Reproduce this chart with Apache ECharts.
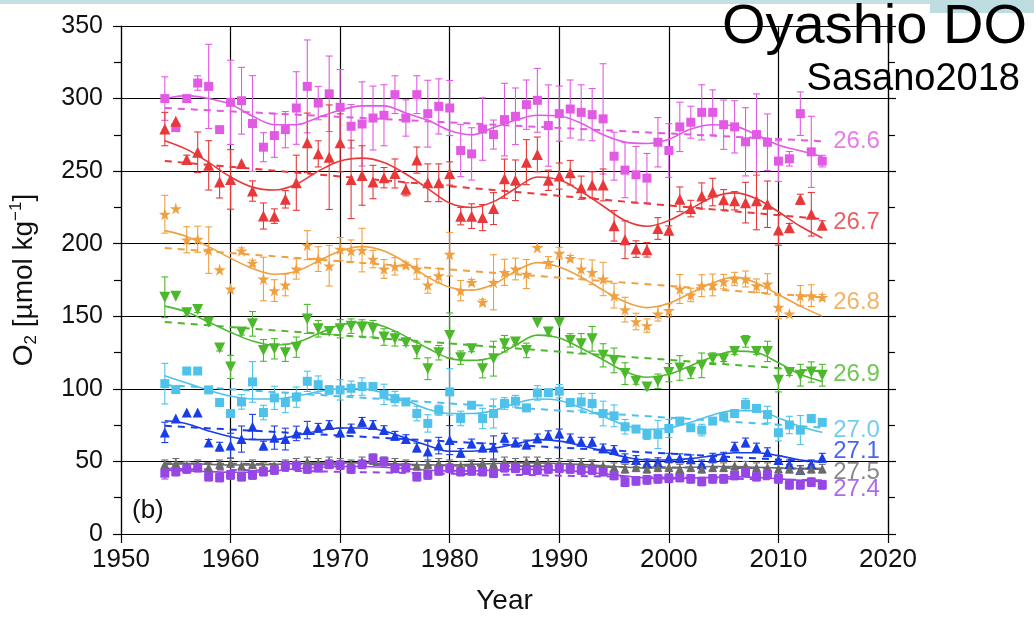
<!DOCTYPE html>
<html><head><meta charset="utf-8">
<script src="https://cdn.jsdelivr.net/npm/echarts@6/dist/echarts.min.js"></script>
<style>html,body{margin:0;padding:0;background:#fff;}#c{width:1034px;height:620px;}</style>
</head><body><div id="c"></div>
<script>
const years = [1954,1955,1956,1957,1958,1959,1960,1961,1962,1963,1964,1965,1966,1967,1968,1969,1970,1971,1972,1973,1974,1975,1976,1977,1978,1979,1980,1981,1982,1983,1984,1985,1986,1987,1988,1989,1990,1991,1992,1993,1994,1995,1996,1997,1998,1999,2000,2001,2002,2003,2004,2005,2006,2007,2008,2009,2010,2011,2012,2013,2014];
const fitYears = [1954,1956,1958,1960,1962,1964,1966,1968,1970,1972,1974,1976,1978,1980,1982,1984,1986,1988,1990,1992,1994,1996,1998,2000,2002,2004,2006,2008,2010,2012,2014];
const trendYears = [1954, 2014];
const xTicks = [1950,1960,1970,1980,1990,2000,2010,2020];
const yTicks = [0,50,100,150,200,250,300,350];

// sigma-theta 26.6
const o266 = [300,280,300,310.7,308.4,278.6,297.4,298.5,282.8,266.5, 274.5,278.6,293.5,308.4,296.9,303.3,294,280.9,282.5,286.6, 288.5,302.7,286.6,302.7,289.6,294.6,293.5,264.2,261.9,279, 275.2,285.5,287.8,295.8,298.8,281.4,289.6,292.8,290.5,288.9, 286,260.3,250.7,247.5,245.2,269.9,264.2,280.5,283.7,290.5, 290.5,282,280.5,270.2,275.2,269.9,256.9,258.5,289.6,263.3, 256.9];
const e266 = [15,0,0,5,29,0,29,23,33,10, 15,12.5,25,32,11.5,26,26,15,29,22, 21,13,12.5,13,23,19,19,18,18,21.5, 10,25,19.5,17,22,28,19,20,19,18, 38,16.5,19,19.5,17,17,18.5,17,11,19, 15.5,17,18,23.5,28,19.5,14,5,15,24.5, 4];
const f266 = [300,302,300,296,288,282,282,287,292,295,295,290,285,278,275,280,285,288.5,288,283,275,270,269,272,279,282,281,275,268,264,260];
const t266 = [293.5, 270.6];
// 26.7
const o267 = [279,284.3,258,263,254,242.5,244.3,255.3,236.3,219.1, 219,230.6,242,269.5,261.9,259.6,269.5,244.3,247,242.5, 245.5,248.4,237.5,257.6,242,242,248.4,219,219,218, 224.2,244.8,243.7,256.2,261.5,243.7,246.6,248.9,238.6,240.5, 240.5,212.3,202.7,196.3,195.8,210.5,209.3,230.6,224.2,232.9, 235.6,230.3,229.6,228.3,229.6,227.2,209.5,211,230.6,220.3, 212.8];
const e267 = [11.5,0,3,14,17,11,20.5,0,7,9, 5,6,19,20.5,9,36,20,27,20.5,11.5, 7,10,4.5,9,13,13,8,6,8.5,9, 11,13.5,14,15.5,12,7,9,8.5,8,9, 11,10.5,13,5.7,5,7.5,3,8.5,5.7,9, 9.5,7,6.3,14,20,16,10.5,3,3.5,15, 3];
const f267 = [271,265,256,246,239,237,241,250,257,259,256,248,238,228,225,229,238,246,244,236,226,216,212,216,224,232,235,231,222,212,204];
const t267 = [257, 217];
// 26.8
const o268 = [220.3,224.2,202.7,203.1,195.6,182.1,168.8,195.1,186.7,175.7, 167.7,171.6,182.6,199,189.4,184.8,196.3,195.1,195.6,189.4, 182.6,184.4,185.3,182.6,171.6,178,192.8,167.7,173.4,159.7, 173.4,180.3,182.6,179.1,197.4,187.1,193.5,189.9,182.6,180.3, 175.7,164.2,154.6,146.4,143.6,151.7,154,168.8,164.7,171.1, 171.6,173.9,175.7,175.7,171.1,172.3,156.3,151.7,164.2,164.2, 163.1];
const e268 = [13,0,9,9,16,0,0,2,2,15, 7.5,7.5,7,10,8.5,14,8,7.5,15,6, 6.5,6,2,7,5.7,5,15,7,2,2, 19,9,7.5,10,0,4,4,2,7,8.5, 11.5,8.5,8.5,5.7,4.6,5,4.6,10,4.6,7.5, 7.5,5,4.6,5.5,4.6,7,8,0,7,7.5, 2];
const f268 = [209,205,198,190,183,179,181,188,195,198,195,187,177,170,168,172,181,187,184,177,168,160,156,159,166,173,177,173,165,157,150];
const t268 = [197, 163];
// 26.9
const o269 = [163.1,163.8,152.4,154.6,146,128.1,115.1,139.1,144.8,126.5, 127.6,124.9,128.7,148.2,141.4,139.5,141.4,143.2,141.9,141.4, 135.7,134.5,131.8,126.5,113.9,124.9,136.8,121.5,127.6,113.9, 120.8,131.1,132.3,126.5,145.5,139.1,145.5,133.4,131.1,134.5, 123.1,119.6,110.5,105.2,101.3,105.2,111.2,114.4,111.2,116.2, 120.8,120.8,125.8,132.7,125.8,125.8,105.9,111.2,109.4,111.6, 109.4];
const e269 = [14,0,2,2,2,2,8,2,8.5,7.5, 7,6,7,10,5.7,2,6.3,5,5.7,5.7, 5.7,5,2,5.7,7.5,5,15.5,4.6,2,6.3, 12,5.7,2,5,0,2,0,4.6,7,8.5, 8,8.5,7.5,2,2,5,6.3,8.5,4,8.5, 4,2,2,4,2,7,8,2,7.5,7, 7.5];
const f269 = [157,153,146,139,133,130,132,138,144,146,143,136,128,121,119.6,122,130,137,135,128,120,112,108,110,116,122,126,125,118,110,105];
const t269 = [146, 112];
// 27.0
const o270 = [103.6,99.5,112.3,112.3,99.3,90.6,83,91,104.8,83.7, 93.8,90.6,94.3,105.2,102.9,99.3,99.3,100.4,101.6,101.6, 96.2,93.3,91,83,76.2,85.3,97.9,79.6,88.7,79.6, 83,89.9,91.5,86.9,97.2,97.4,98.4,90.6,91,89.9, 83,81.4,73.9,72.3,68.6,68.6,72.7,77.8,73.2,71.6, 77.8,80.8,83,89.2,86.5,82.3,69.8,75.1,71.6,79.6, 76.9];
const e270 = [14,0,0,0,2,2,2,5,14,5, 8,7,7,7,6,3,7,5,6,2, 7,5,2,5,6,3.5,16,5,2,7, 10,4,4,2,5,2,4.6,2,5.7,7, 8.5,7.5,5,2,3.5,9.7,6.3,2,2,4, 2,2,2,4,2,5.7,5.7,6,10,2, 2];
const f270 = [109,104,99,95,93,93,95,98,100,100,97,92,86,83,83,85,90,93,92,87,81,75,72,73,77,82,85,85,80,74,70];
const t270 = [102.7, 73.3];
// 27.1
const o271 = [70,79.6,83.7,83.7,63.1,60.2,60.9,65.4,73.9,60.9, 66.4,65.4,69.3,71.6,73.2,75.1,70,72.7,77.3,75.1, 71.6,67.7,65.4,59.6,56.9,60.9,64.7,55.9,62.4,59.6, 59.6,66.4,63.1,61.7,65.9,68.1,69.3,65.9,63.6,63.6, 59,57.9,52.2,51,48.7,49.5,52.6,52.2,51.5,48, 52.6,53.3,60.2,63.1,59.6,56.4,51,48,44.1,48, 52.6];
const e271 = [7,0,0,0,2,3,8.5,9,8.5,3, 8,7.5,5,6,3,3,3,3,3,3, 3,3,3,3,7,5.7,10,3,3,3, 8,3,3,3,3,3,3,3,3,3, 3,3,3,3,3,3,3,3,3,3, 3,3,3,3,3,3,3,3,3,3, 3];
const f271 = [78,76,71,67,65,65,68,71,73,73,71,66,61,57,57,59,62,65,64,61,57,53,51,51,52,54,56,56,54,51,50];
const t271 = [74.5, 49.6];
// 27.5
const o275 = [48,49,47,48,46,48,49,47,48,46, 47,48,49,50,49,50,49,48,50,51, 50,49,48,47,48,49,48,47,48,49, 48,50,49,50,50,49,49,48,49,48, 47,46,45,46,45,46,46,45,46,45, 46,46,47,47,46,46,45,45,44,45, 45];
const e275 = [3,3,3,3,3,3,3,3,3,3, 3,3,3,3,3,3,3,3,3,3, 3,3,3,3,3,3,3,3,3,3, 3,3,3,3,3,3,3,3,3,3, 3,3,3,3,3,3,3,3,3,3, 3,3,3,3,3,3,3,3,3,3, 3];
const f275 = [48,48.5,48,47.5,47.5,48,48.5,49,49,49,48.5,48,47.5,47.5,48,48.5,49,49,48.5,48,47,46,45.5,45.5,46,46.5,46.5,46,45.5,45,44.5];
const t275 = [48.8, 45];
// 27.4
const o274 = [41.9,43,44.8,45.7,39.5,38.9,40.7,39.5,40.7,43, 44.1,47.1,47.1,44.8,45.7,48,47.5,44.8,48,52.2, 49.9,45.3,45.7,39.5,40.7,43.5,45.3,43,43.5,43, 41.9,45.7,45.3,44.1,44.1,44.8,45.3,44.8,44.1,44.1, 43,40.3,35.7,36.6,37.3,38,38.4,38.9,38,36.2, 38,38,40.3,42.6,39.5,41.1,38,33.9,33.9,35.7, 33.9];
const e274 = [4,3,3,3,3,3,3,3,3,3, 3,3,3,3,3,3,3,3,3,3, 3,3,3,3,3,3,3,3,3,3, 3,3,3,3,3,3,3,3,3,3, 3,3,3,3,3,3,3,3,3,3, 3,3,3,3,3,3,3,3,3,3, 3];
const f274 = [44,43.5,43,42.5,42.5,43.5,45,46,46.5,46.5,46,45,44,43.5,43.5,44,44.5,44.5,44,43,41.5,40,38.5,38,38.5,39,39.5,39,38,37,36];
const t274 = [45, 37];

const labelNames = ['26.6','26.7','26.8','26.9','27.0','27.1','27.5','27.4'];
const labelValues = [270.4, 214.8, 159.9, 110.1, 71.7, 56.6, 42.5, 30.5];
const labelYear = 2015;

const FONT = "'Liberation Sans', Arial, Helvetica, sans-serif";
const STAR = 'path://M50,0 L61,35 L98,35 L68,57 L79,91 L50,70 L21,91 L32,57 L2,35 L39,35 Z';

const layers = [
  {vals:o266, errs:e266, fit:f266, trend:t266, color:'#e25ae4', symbol:'rect', size:9, rot:0},
  {vals:o267, errs:e267, fit:f267, trend:t267, color:'#e8383a', symbol:'triangle', size:11, rot:0},
  {vals:o268, errs:e268, fit:f268, trend:t268, color:'#f0a040', symbol:STAR, size:12, rot:0},
  {vals:o269, errs:e269, fit:f269, trend:t269, color:'#4cb82c', symbol:'triangle', size:11, rot:180},
  {vals:o270, errs:e270, fit:f270, trend:t270, color:'#4ec2ea', symbol:'rect', size:9, rot:0},
  {vals:o271, errs:e271, fit:f271, trend:t271, color:'#1a3de6', symbol:'triangle', size:10, rot:0},
  {vals:o275, errs:e275, fit:f275, trend:t275, color:'#6a6a6a', symbol:'triangle', size:9, rot:0},
  {vals:o274, errs:e274, fit:f274, trend:t274, color:'#9646e4', symbol:'rect', size:9, rot:0}
];

const series = [];
layers.forEach((L, i) => {
  const color = L.color;
  series.push({
    type:'custom', silent:true, z:2,
    data: years.map((y,k) => [y, L.vals[k], L.errs[k]]),
    encode:{x:0, y:1},
    renderItem: function(params, api){
      const x = api.value(0), v = api.value(1), e = api.value(2);
      if (!e) return null;
      const top = api.coord([x, v + e]);
      const bot = api.coord([x, v - e]);
      const hw = 3.5;
      const st = {stroke: color, lineWidth: 1.1};
      return {type:'group', children:[
        {type:'line', shape:{x1:top[0], y1:top[1], x2:bot[0], y2:bot[1]}, style:st},
        {type:'line', shape:{x1:top[0]-hw, y1:top[1], x2:top[0]+hw, y2:top[1]}, style:st},
        {type:'line', shape:{x1:bot[0]-hw, y1:bot[1], x2:bot[0]+hw, y2:bot[1]}, style:st}
      ]};
    }
  });
  series.push({
    type:'line', silent:true, z:3, smooth:0.35, showSymbol:false,
    data: fitYears.map((y,k) => [y, L.fit[k]]),
    lineStyle:{color:color, width:1.6}
  });
  series.push({
    type:'line', silent:true, z:3, showSymbol:false,
    data: trendYears.map((y,k) => [y, L.trend[k]]),
    lineStyle:{color:color, width:2, type:[7,6]}
  });
  series.push({
    type:'scatter', silent:true, z:4,
    data: years.map((y,k) => [y, L.vals[k]]),
    symbol: L.symbol, symbolSize: L.size, symbolRotate: L.rot,
    itemStyle:{color:color, opacity:1}
  });
  series.push({
    type:'scatter', silent:true, z:5,
    data: [[labelYear, labelValues[i]]],
    symbolSize: 0,
    label:{show:true, position:'right', distance:0, formatter: labelNames[i],
      fontSize:24, fontFamily:FONT, color:color}
  });
});

const chart = echarts.init(document.getElementById('c'));
chart.setOption({
  animation:false,
  backgroundColor:'#ffffff',
  grid:{left:119, top:26, width:769, height:510, containLabel:false},
  xAxis:{
    type:'value', min:xTicks[0], max:xTicks[xTicks.length-1], interval:10,
    axisLine:{show:true, lineStyle:{color:'#000', width:1.2}},
    axisTick:{show:true, length:9, lineStyle:{color:'#000', width:1.2}},
    axisLabel:{fontSize:26, fontFamily:FONT, color:'#111', margin:13, showMinLabel:true, showMaxLabel:true,
      formatter: v => xTicks.indexOf(v) >= 0 ? String(v) : ''},
    splitLine:{show:true, lineStyle:{color:'#000', width:1.2}},
    name:'Year', nameLocation:'middle', nameGap:53,
    nameTextStyle:{fontSize:28, fontFamily:FONT, color:'#111'}
  },
  yAxis:[{
    type:'value', min:yTicks[0], max:yTicks[yTicks.length-1], interval:50,
    axisLine:{show:true, lineStyle:{color:'#000', width:1.2}},
    axisTick:{show:true, length:8, lineStyle:{color:'#000', width:1.2}},
    minorTick:{show:true, splitNumber:2, length:7, lineStyle:{color:'#000', width:1.2}},
    axisLabel:{fontSize:25, fontFamily:FONT, color:'#111', margin:18,
      formatter: v => yTicks.indexOf(v) >= 0 ? String(v) : ''},
    splitLine:{show:true, lineStyle:{color:'#000', width:1.2}},
    name:'{a|O}{s|2}{a| [µmol kg}{p|−1}{a|]}', nameLocation:'middle', nameGap:80, nameRotate:90,
    nameTextStyle:{color:'#111', rich:{
      a:{fontSize:28, fontFamily:FONT, color:'#111'},
      s:{fontSize:17, fontFamily:FONT, color:'#111', padding:[14,0,0,0]},
      p:{fontSize:17, fontFamily:FONT, color:'#111', padding:[0,0,16,0]}
    }}
  },{
    type:'value', position:'right', min:yTicks[0], max:yTicks[yTicks.length-1], interval:50,
    axisLine:{show:true, lineStyle:{color:'#000', width:1.2}},
    axisTick:{show:true, length:8, lineStyle:{color:'#000', width:1.2}},
    minorTick:{show:true, splitNumber:2, length:7, lineStyle:{color:'#000', width:1.2}},
    axisLabel:{show:false}, splitLine:{show:false}
  }],
  graphic:[
    {type:'rect', z:-10, shape:{x:0, y:0, width:1034, height:4}, style:{fill:'#c4e0e3'}},
    {type:'rect', z:-10, shape:{x:930, y:0, width:104, height:13}, style:{fill:'#bddde1'}},
    {type:'text', z:100, x:1027, y:28, style:{text:'Oyashio DO', font:'56px ' + FONT, fill:'#000', align:'right', verticalAlign:'middle'}},
    {type:'text', z:100, x:1020, y:80, style:{text:'Sasano2018', font:'38px ' + FONT, fill:'#000', align:'right', verticalAlign:'middle'}},
    {type:'text', z:100, x:132, y:511, style:{text:'(b)', font:'26px ' + FONT, fill:'#111', align:'left', verticalAlign:'middle'}}
  ],
  series: series
});
</script></body></html>
